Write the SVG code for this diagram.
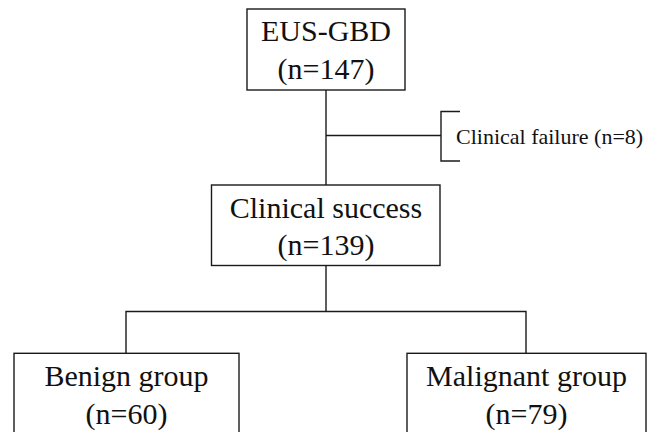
<svg xmlns="http://www.w3.org/2000/svg" width="647" height="432" viewBox="0 0 647 432">
<style>
.box{fill:#fff;stroke:#1a1a1a;stroke-width:1.4}
.ln{fill:none;stroke:#1a1a1a;stroke-width:1.4}
.t{font-family:"Liberation Serif","Times New Roman",serif;font-size:30px;fill:#111;text-anchor:middle}
.s{font-family:"Liberation Serif","Times New Roman",serif;font-size:22px;fill:#111}
</style>
<rect width="647" height="432" fill="#fff"/>
<g id="connectors">
<path class="ln" d="M326,90V185"/>
<path class="ln" d="M326,135.5H441"/>
<path class="ln" d="M460,111.5H441V161H460"/>
<path class="ln" d="M326,265.5V311.5"/>
<path class="ln" d="M126,353.3V311.5H526V353.3"/>
</g>
<g id="eus">
<rect class="box" x="247" y="9" width="158" height="81"/>
<text class="t" x="326" y="41">EUS-GBD</text>
<text class="t" x="326" y="79">(n=147)</text>
</g>
<g id="failure">
<text class="s" x="456" y="144">Clinical failure (n=8)</text>
</g>
<g id="success">
<rect class="box" x="211.5" y="185" width="228.5" height="80.5"/>
<text class="t" x="326" y="217.5">Clinical success</text>
<text class="t" x="326" y="255">(n=139)</text>
</g>
<g id="benign">
<rect class="box" x="14" y="353.3" width="225" height="100"/>
<text class="t" x="126.5" y="385.5">Benign group</text>
<text class="t" x="126.5" y="423.5">(n=60)</text>
</g>
<g id="malignant">
<rect class="box" x="407" y="353.3" width="239" height="100"/>
<text class="t" x="526.5" y="385.5">Malignant group</text>
<text class="t" x="526.5" y="423.5">(n=79)</text>
</g>
</svg>
